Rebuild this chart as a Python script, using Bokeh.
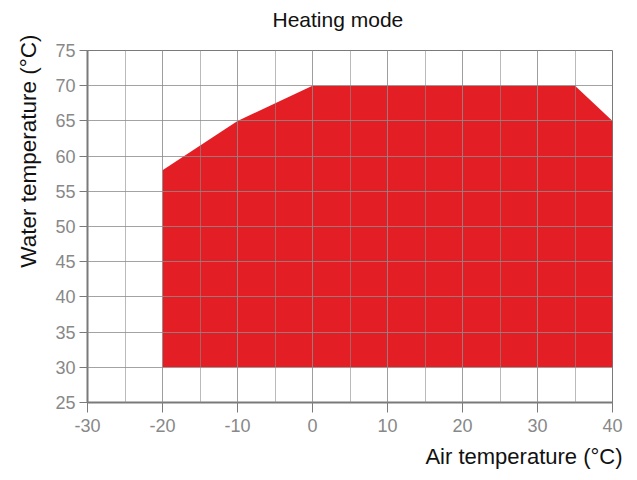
from bokeh.plotting import figure
from bokeh.models import (Range1d, SingleIntervalTicker, FixedTicker, Title,
                          LinearAxis, PrintfTickFormatter)
from bokeh.embed import file_html
from bokeh.resources import INLINE

# Operating envelope (heating mode)
air_temp = [-20, -20, -10, 0, 35, 40, 40]
water_temp = [30, 58, 65, 70, 70, 65, 30]

x_min, x_max = -30, 40
y_min, y_max = 25, 75

title_text = "Heating mode"
x_title = "Air temperature (°C)"
y_title = "Water temperature (°C)"

FONT = "Liberation Sans"
RED = "#e31e24"
GRID = "#8c8c8c"
AXIS = "#7a7a7a"

p = figure(width=637, height=480, output_backend="svg", toolbar_location=None,
           x_range=Range1d(x_min, x_max), y_range=Range1d(y_min, y_max),
           min_border_left=87, min_border_right=25, min_border_top=50,
           min_border_bottom=78)

p.patch(air_temp, water_temp, fill_color=RED, line_color=None)

# ticks
p.xaxis.ticker = SingleIntervalTicker(interval=10, num_minor_ticks=2)
p.yaxis.ticker = SingleIntervalTicker(interval=5, num_minor_ticks=0)
p.xaxis.formatter = PrintfTickFormatter(format="%d")
p.yaxis.formatter = PrintfTickFormatter(format="%d")

for ax in (p.xaxis[0], p.yaxis[0]):
    ax.axis_line_color = AXIS
    ax.axis_line_width = 2
    ax.major_tick_line_color = AXIS
    ax.major_tick_line_width = 1
    ax.major_tick_in = 0
    ax.minor_tick_line_color = None
    ax.major_label_text_font = FONT
    ax.major_label_text_font_size = "18px"
    ax.major_label_text_color = "#888888"

p.xaxis.major_tick_out = 10
p.xaxis.major_label_standoff = 6
p.yaxis.major_tick_out = 8
p.yaxis.major_label_standoff = 4

# grid on top of the area
p.xgrid.grid_line_color = GRID
p.xgrid.minor_grid_line_color = GRID
p.ygrid.grid_line_color = GRID
p.xgrid.level = "overlay"
p.ygrid.level = "overlay"
p.xgrid.grid_line_alpha = 0.6
p.xgrid.minor_grid_line_alpha = 0.6
p.ygrid.grid_line_alpha = 0.8
p.outline_line_color = AXIS
p.outline_line_width = 1

# invisible spacer between frame and main title
spacer = LinearAxis(ticker=FixedTicker(ticks=[x_min]), axis_line_color=None,
                    major_tick_line_color=None, minor_tick_line_color=None,
                    major_tick_out=18, major_tick_in=0, major_label_standoff=0,
                    major_label_text_color=None,
                    major_label_text_font_size="1px")
p.add_layout(spacer, "above")

# main title (outside the spacer)
p.title.text = ""
main_title = Title(text=title_text, align="left", offset=185,
                   text_font=FONT, text_font_size="21px", text_font_style="normal",
                   text_color="#111111", standoff=4)
p.add_layout(main_title, "above")

# axis titles
ytitle = Title(text=y_title, align="right", offset=-16,
               text_font=FONT, text_font_size="22.5px", text_font_style="normal",
               text_color="#111111", standoff=24)
p.add_layout(ytitle, "left")

xtitle = Title(text=x_title, align="right", offset=-10,
               text_font=FONT, text_font_size="22px", text_font_style="normal",
               text_color="#111111", standoff=15)
p.add_layout(xtitle, "below")

open("out.html", "w").write(file_html(p, INLINE))
